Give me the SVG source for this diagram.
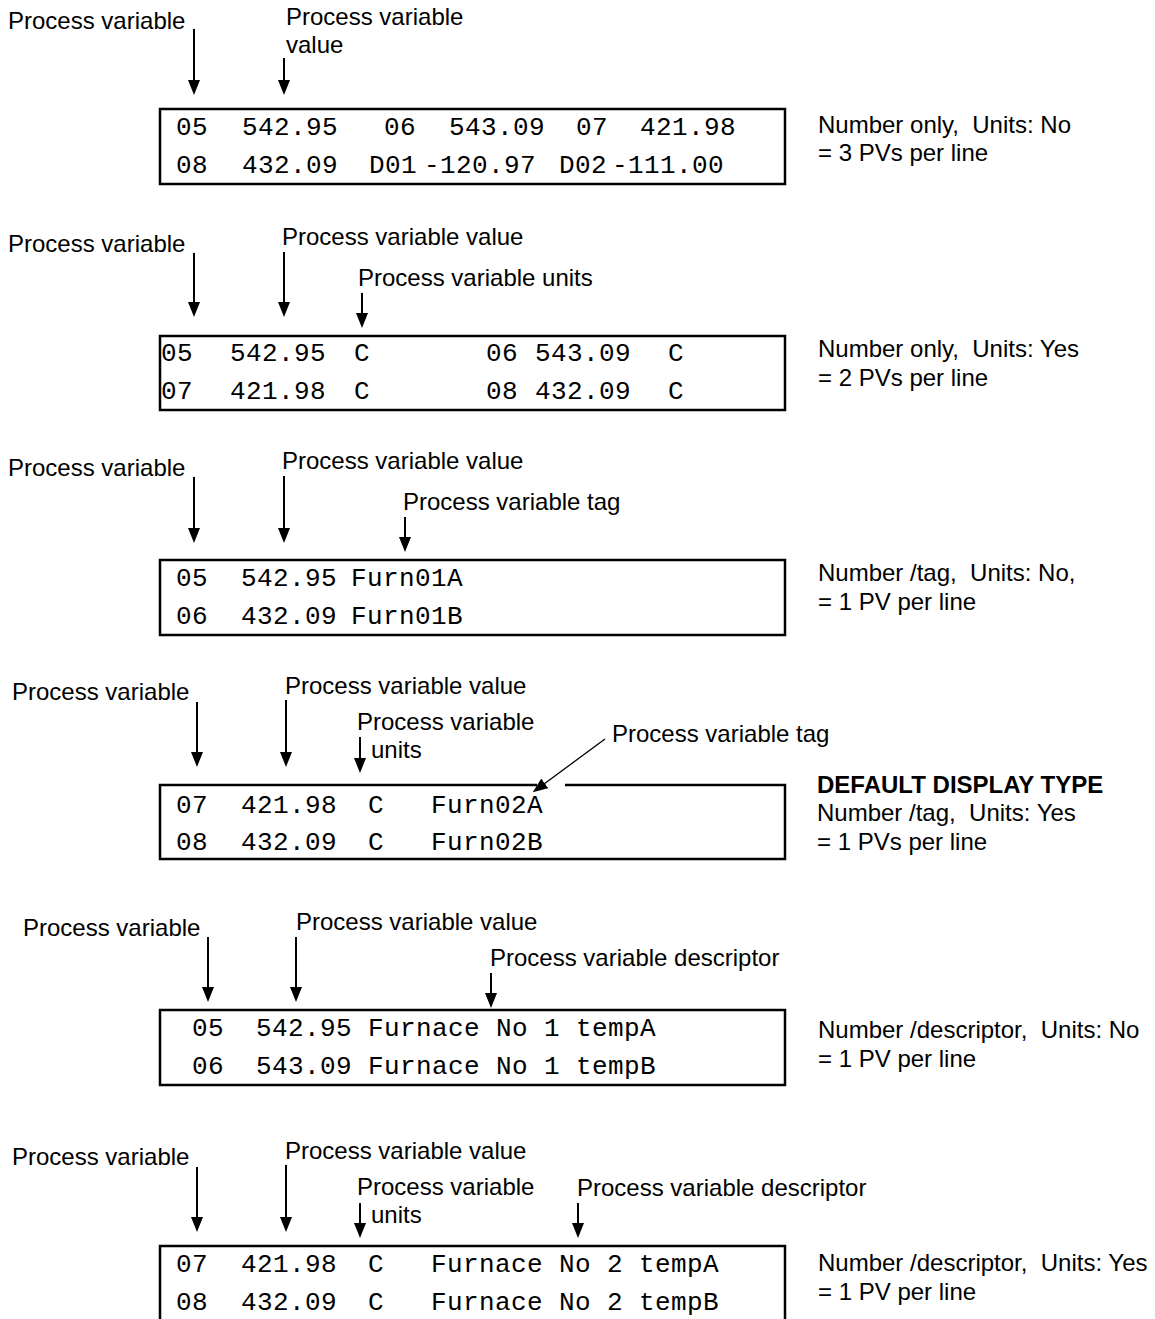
<svg xmlns="http://www.w3.org/2000/svg" width="1155" height="1319" viewBox="0 0 1155 1319">
<style>
.lbl{font-family:"Liberation Sans",Arial,sans-serif;font-size:24px;fill:#000}
.b{font-weight:bold}
.mono{font-family:"Liberation Mono","Courier New",monospace;font-size:26px;letter-spacing:0.4px;fill:#000}
.box{fill:none;stroke:#000;stroke-width:2.5}
.arr{stroke:#000;stroke-width:2;fill:none}
.thin{stroke:#000;stroke-width:1.3;fill:none}
</style>
<defs>
<marker id="ah" viewBox="0 0 15 12" markerWidth="15" markerHeight="12" refX="1" refY="6" orient="auto" markerUnits="userSpaceOnUse"><path d="M0,0 L15,6 L0,12 z" fill="#000"/></marker>
</defs>
<rect width="1155" height="1319" fill="#fff"/>

<!-- Panel 1 -->
<g id="p1-labels">
<text class="lbl" x="8" y="29">Process variable</text>
<text class="lbl" x="286" y="25">Process variable</text>
<text class="lbl" x="286" y="53">value</text>
<text class="lbl" x="818" y="133" xml:space="preserve">Number only,  Units: No</text>
<text class="lbl" x="818" y="161">= 3 PVs per line</text>
</g>
<g id="p1-box">
<rect class="box" x="160" y="109" width="625" height="75"/>
<text class="mono" x="176" y="135">05</text><text class="mono" x="242" y="135">542.95</text><text class="mono" x="384" y="135">06</text><text class="mono" x="449" y="135">543.09</text><text class="mono" x="576" y="135">07</text><text class="mono" x="640" y="135">421.98</text>
<text class="mono" x="176" y="173">08</text><text class="mono" x="242" y="173">432.09</text><text class="mono" x="369" y="173">D01</text><text class="mono" x="424" y="173">-120.97</text><text class="mono" x="559" y="173">D02</text><text class="mono" x="612" y="173">-111.00</text>
</g>

<!-- Panel 2 -->
<g id="p2-labels">
<text class="lbl" x="8" y="252">Process variable</text>
<text class="lbl" x="282" y="245">Process variable value</text>
<text class="lbl" x="358" y="286">Process variable units</text>
<text class="lbl" x="818" y="357" xml:space="preserve">Number only,  Units: Yes</text>
<text class="lbl" x="818" y="386">= 2 PVs per line</text>
</g>
<g id="p2-box">
<rect class="box" x="160" y="336" width="625" height="74"/>
<text class="mono" x="161" y="361">05</text><text class="mono" x="230" y="361">542.95</text><text class="mono" x="354" y="361">C</text><text class="mono" x="486" y="361">06</text><text class="mono" x="535" y="361">543.09</text><text class="mono" x="668" y="361">C</text>
<text class="mono" x="161" y="399">07</text><text class="mono" x="230" y="399">421.98</text><text class="mono" x="354" y="399">C</text><text class="mono" x="486" y="399">08</text><text class="mono" x="535" y="399">432.09</text><text class="mono" x="668" y="399">C</text>
</g>

<!-- Panel 3 -->
<g id="p3-labels">
<text class="lbl" x="8" y="476">Process variable</text>
<text class="lbl" x="282" y="469">Process variable value</text>
<text class="lbl" x="403" y="510">Process variable tag</text>
<text class="lbl" x="818" y="581" xml:space="preserve">Number /tag,  Units: No,</text>
<text class="lbl" x="818" y="610">= 1 PV per line</text>
</g>
<g id="p3-box">
<rect class="box" x="160" y="560" width="625" height="75"/>
<text class="mono" x="176" y="586">05</text><text class="mono" x="241" y="586">542.95</text><text class="mono" x="351" y="586">Furn01A</text>
<text class="mono" x="176" y="624">06</text><text class="mono" x="241" y="624">432.09</text><text class="mono" x="351" y="624">Furn01B</text>
</g>

<!-- Panel 4 -->
<g id="p4-labels">
<text class="lbl" x="12" y="700">Process variable</text>
<text class="lbl" x="285" y="694">Process variable value</text>
<text class="lbl" x="357" y="730">Process variable</text>
<text class="lbl" x="371" y="758">units</text>
<text class="lbl" x="612" y="742">Process variable tag</text>
<text class="lbl b" x="817" y="793">DEFAULT DISPLAY TYPE</text>
<text class="lbl" x="817" y="821" xml:space="preserve">Number /tag,  Units: Yes</text>
<text class="lbl" x="817" y="850">= 1 PVs per line</text>
</g>
<g id="p4-box">
<path class="box" d="M537,785 H160 V859 H785 V785 H565"/>
<text class="mono" x="176" y="813">07</text><text class="mono" x="241" y="813">421.98</text><text class="mono" x="368" y="813">C</text><text class="mono" x="431" y="813">Furn02A</text>
<text class="mono" x="176" y="850">08</text><text class="mono" x="241" y="850">432.09</text><text class="mono" x="368" y="850">C</text><text class="mono" x="431" y="850">Furn02B</text>
</g>

<!-- Panel 5 -->
<g id="p5-labels">
<text class="lbl" x="23" y="936">Process variable</text>
<text class="lbl" x="296" y="930">Process variable value</text>
<text class="lbl" x="490" y="966">Process variable descriptor</text>
<text class="lbl" x="818" y="1038" xml:space="preserve">Number /descriptor,  Units: No</text>
<text class="lbl" x="818" y="1067">= 1 PV per line</text>
</g>
<g id="p5-box">
<rect class="box" x="160" y="1010" width="625" height="75"/>
<text class="mono" x="192" y="1036">05</text><text class="mono" x="256" y="1036">542.95</text><text class="mono" x="368" y="1036">Furnace No 1 tempA</text>
<text class="mono" x="192" y="1074">06</text><text class="mono" x="256" y="1074">543.09</text><text class="mono" x="368" y="1074">Furnace No 1 tempB</text>
</g>

<!-- Panel 6 -->
<g id="p6-labels">
<text class="lbl" x="12" y="1165">Process variable</text>
<text class="lbl" x="285" y="1159">Process variable value</text>
<text class="lbl" x="357" y="1195">Process variable</text>
<text class="lbl" x="371" y="1223">units</text>
<text class="lbl" x="577" y="1196">Process variable descriptor</text>
<text class="lbl" x="818" y="1271" xml:space="preserve">Number /descriptor,  Units: Yes</text>
<text class="lbl" x="818" y="1300">= 1 PV per line</text>
</g>
<g id="p6-box">
<rect class="box" x="160" y="1246" width="625" height="76"/>
<text class="mono" x="176" y="1272">07</text><text class="mono" x="241" y="1272">421.98</text><text class="mono" x="368" y="1272">C</text><text class="mono" x="431" y="1272">Furnace No 2 tempA</text>
<text class="mono" x="176" y="1310">08</text><text class="mono" x="241" y="1310">432.09</text><text class="mono" x="368" y="1310">C</text><text class="mono" x="431" y="1310">Furnace No 2 tempB</text>
</g>

<g id="connectors">
<line class="arr" x1="194" y1="29" x2="194" y2="81" marker-end="url(#ah)"/>
<line class="arr" x1="284" y1="58" x2="284" y2="81" marker-end="url(#ah)"/>

<line class="arr" x1="194" y1="253" x2="194" y2="303" marker-end="url(#ah)"/>
<line class="arr" x1="284" y1="252" x2="284" y2="303" marker-end="url(#ah)"/>
<line class="arr" x1="362" y1="293" x2="362" y2="314" marker-end="url(#ah)"/>

<line class="arr" x1="194" y1="477" x2="194" y2="529" marker-end="url(#ah)"/>
<line class="arr" x1="284" y1="476" x2="284" y2="529" marker-end="url(#ah)"/>
<line class="arr" x1="405" y1="517" x2="405" y2="538" marker-end="url(#ah)"/>

<line class="arr" x1="197" y1="702" x2="197" y2="753" marker-end="url(#ah)"/>
<line class="arr" x1="286" y1="700" x2="286" y2="753" marker-end="url(#ah)"/>
<line class="arr" x1="360" y1="737" x2="360" y2="759" marker-end="url(#ah)"/>
<line class="thin" x1="605" y1="739" x2="544" y2="784" marker-end="url(#ah)"/>

<line class="arr" x1="208" y1="937" x2="208" y2="988" marker-end="url(#ah)"/>
<line class="arr" x1="296" y1="937" x2="296" y2="988" marker-end="url(#ah)"/>
<line class="arr" x1="491" y1="973" x2="491" y2="994" marker-end="url(#ah)"/>

<line class="arr" x1="197" y1="1167" x2="197" y2="1218" marker-end="url(#ah)"/>
<line class="arr" x1="286" y1="1165" x2="286" y2="1218" marker-end="url(#ah)"/>
<line class="arr" x1="360" y1="1203" x2="360" y2="1224" marker-end="url(#ah)"/>
<line class="arr" x1="578" y1="1203" x2="578" y2="1224" marker-end="url(#ah)"/>
</g>
</svg>
